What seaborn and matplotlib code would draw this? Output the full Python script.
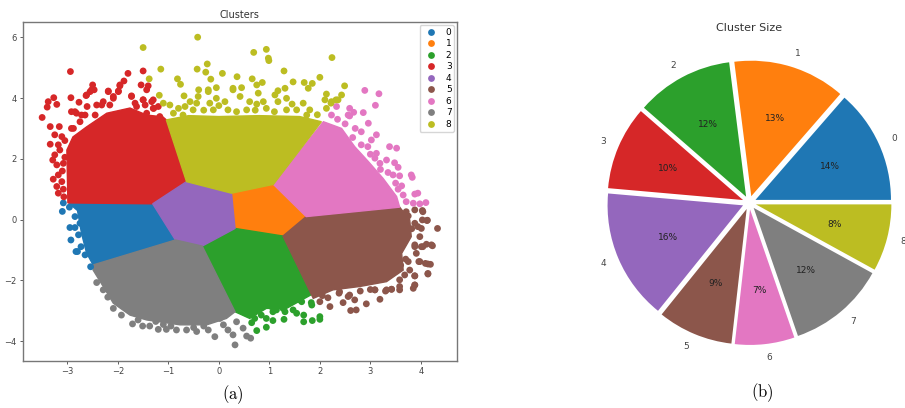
import pandas as pd
import matplotlib
matplotlib.use('Agg')
import matplotlib.pyplot as plt
import seaborn as sns

plt.rcParams['mathtext.fontset'] = 'cm'

cluster_names = ['0', '1', '2', '3', '4', '5', '6', '7', '8']

# Dense part of each cluster, outline
body_0 = [(-2.97, 0.54), (-1.31, 0.52), (-0.86, -0.67), (-2.49, -1.49), (-2.62, -1.1), (-2.72, -0.45), (-2.8, 0.3)]
body_1 = [(0.25, 0.87), (1.08, 1.16), (1.73, 0.10), (1.27, -0.54), (0.32, -0.29)]
body_2 = [(0.32, -0.29), (1.27, -0.54), (1.83, -2.47), (1.34, -2.92), (0.94, -2.92), (0.61, -3.25), (0.32, -3.03), (-0.33, -0.87)]
body_3 = [(-2.99, 0.55), (-1.31, 0.52), (-0.64, 1.25), (-1.04, 3.28), (-1.11, 3.38), (-1.43, 3.44), (-1.76, 3.67), (-2.22, 3.5),
          (-2.62, 3.05), (-2.89, 2.72), (-3.01, 2.29)]
body_4 = [(-0.64, 1.25), (0.25, 0.87), (0.32, -0.29), (-0.33, -0.87), (-0.86, -0.67), (-1.31, 0.52)]
body_5 = [(1.73, 0.10), (3.58, 0.41), (3.78, -0.01), (3.81, -0.56), (3.62, -1.11), (3.65, -1.66), (3.32, -2.04), (2.79, -2.20),
          (2.26, -2.31), (1.87, -2.59), (1.27, -0.54)]
body_6 = [(1.08, 1.16), (2.07, 3.22), (2.43, 3.0), (2.69, 2.40), (2.96, 1.91), (3.25, 1.36), (3.52, 0.76), (3.58, 0.41), (1.73, 0.10)]
body_7 = [(-2.49, -1.49), (-0.86, -0.67), (-0.33, -0.87), (0.32, -3.03), (0.15, -3.25), (-0.24, -3.46), (-0.77, -3.46), (-1.43, -3.30),
          (-1.76, -3.14), (-2.09, -2.75), (-2.29, -2.20), (-2.49, -1.66)]
body_8 = [(-1.04, 3.28), (-0.64, 1.25), (0.25, 0.87), (1.08, 1.16), (2.03, 3.22), (1.6, 3.39), (0.8, 3.42), (0, 3.39), (-0.6, 3.42)]
bodies = [body_0, body_1, body_2, body_3, body_4, body_5, body_6, body_7, body_8]

# Loose points around the dense parts
points_0 = [(-3.10, 0.27), (-3.08, 0.55), (-2.96, 0.41), (-2.95, -0.26), (-2.85, -0.26), (-2.93, -0.67), (-2.73, -0.89),
            (-2.80, -1.05), (-2.83, -1.05), (-2.54, -1.55), (-2.78, -0.50), (-2.85, 0.10), (-2.65, -1.16), (-2.75, -0.12)]
points_1 = [(1.0, 0.3)]
points_2 = [(0.65, -3.39), (0.75, -3.65), (0.94, -3.54), (0.84, -3.14), (1.07, -3.03), (1.29, -3.28), (1.07, -3.32), (0.94, -3.25),
            (1.54, -3.08), (1.68, -3.14), (1.68, -3.36), (1.85, -3.32), (2.0, -3.19), (2.0, -3.28), (1.83, -2.73), (1.60, -2.64),
            (1.27, -2.92), (1.47, -2.97), (1.04, -2.86), (1.31, -3.03), (1.84, -2.81), (1.64, -2.70), (1.14, -2.97), (0.71, -3.25)]
points_3 = [(-3.50, 3.36), (-3.34, 3.06), (-3.16, 3.06), (-3.38, 3.88), (-3.27, 4.01), (-3.40, 3.70), (-3.21, 3.79),
            (-2.94, 4.87), (-2.93, 4.01), (-1.80, 4.81), (-1.50, 4.89), (-1.88, 4.56), (-1.96, 4.40), (-1.99, 4.23),
            (-2.50, 4.43), (-2.47, 4.27), (-2.55, 4.21), (-2.63, 4.08), (-2.19, 4.23), (-1.54, 4.43), (-1.40, 4.40),
            (-1.43, 4.27), (-1.73, 4.07), (-2.09, 4.05), (-2.29, 3.88), (-2.77, 3.86), (-1.50, 3.94), (-1.30, 3.94),
            (-1.66, 3.83), (-2.61, 3.72), (-2.42, 3.77), (-2.85, 3.55), (-1.30, 3.66), (-2.65, 3.44), (-2.92, 3.0),
            (-3.25, 2.79), (-3.11, 2.73), (-3.34, 2.48), (-3.18, 2.46), (-3.29, 1.96), (-3.21, 1.80), (-3.25, 2.13),
            (-3.08, 1.85), (-3.18, 1.47), (-3.28, 1.33), (-3.11, 1.25), (-3.21, 1.09), (-3.18, 0.87), (-3.15, 2.29),
            (-2.88, 3.0), (-2.75, 3.22), (-2.72, 3.44), (-2.82, 3.50), (-2.92, 3.55), (-2.45, 3.44), (-2.32, 3.77),
            (-2.16, 3.77), (-2.09, 3.99), (-2.19, 4.21), (-1.99, 4.21), (-1.96, 4.43), (-2.52, 4.27), (-2.62, 4.10),
            (-1.73, 4.05), (-1.63, 3.72), (-1.50, 3.94), (-1.33, 3.88), (-1.46, 3.77), (-1.29, 3.66), (-1.20, 3.72),
            (-1.43, 3.50), (-1.27, 3.22), (-1.17, 3.39), (-3.05, 2.6), (-3.1, 1.6), (-3.08, 1.0), (-3.05, 2.05), (-3.07, 0.75)]
points_4 = [(-0.3, 0.3)]
points_5 = [(4.33, -0.29), (4.23, -0.86), (4.11, -0.81), (4.19, -1.47), (4.09, -1.44), (4.14, -1.79), (3.88, -2.15),
            (3.85, -2.26), (3.88, -1.85), (3.98, -1.38), (3.78, -1.66), (4.01, -0.89), (3.88, -0.89), (4.03, -0.01),
            (4.13, -0.02), (4.03, 0.30), (3.88, 0.32), (3.94, -0.23), (3.19, -2.62), (2.92, -2.77), (2.72, -2.97),
            (2.61, -2.99), (2.69, -2.64), (2.46, -2.73), (2.20, -2.86), (2.16, -2.57), (2.0, -2.70), (2.38, -2.42),
            (2.59, -2.48), (3.09, -2.31), (3.32, -2.31), (3.42, -2.29), (3.58, -2.20), (3.68, -1.82), (4.04, 0.26),
            (3.88, -0.12), (4.01, -0.29), (3.98, -0.56), (3.88, -0.83), (4.21, -0.83), (4.04, -0.89), (3.91, -1.11),
            (3.96, -1.38), (4.14, -1.46), (3.75, -1.38), (3.88, -1.85), (4.14, -1.77), (3.88, -2.15), (3.58, -1.98),
            (3.58, -2.31), (3.42, -2.29), (3.30, -2.35), (2.56, -2.53), (2.39, -2.37), (3.09, -2.31), (4.12, -0.03),
            (3.71, 0.26), (3.75, 0.12), (3.82, -0.3), (3.7, -1.3), (3.6, -1.5), (3.0, -2.3), (2.8, -2.35), (2.05, -2.5)]
points_6 = [(2.89, 4.25), (3.17, 4.14), (3.10, 3.76), (2.23, 3.44), (2.33, 3.72), (2.59, 3.66), (2.59, 3.41), (2.86, 3.52),
            (2.96, 3.17), (2.82, 2.89), (3.12, 2.79), (3.02, 2.62), (2.82, 2.46), (3.38, 2.40), (3.52, 2.35), (3.12, 2.18),
            (3.32, 1.96), (3.09, 2.02), (3.19, 1.85), (3.48, 1.87), (3.55, 1.72), (3.81, 1.47), (3.45, 1.47), (3.58, 1.44),
            (3.88, 0.84), (3.85, 0.54), (3.98, 0.52), (4.10, 0.56), (3.65, 0.81), (3.62, 1.11), (3.71, 0.59), (2.67, 3.53),
            (2.56, 3.44), (2.35, 3.3), (2.5, 3.15), (2.7, 3.0), (2.65, 2.7), (2.95, 2.4), (3.0, 2.15), (3.2, 1.65),
            (3.35, 1.55), (3.5, 1.2), (3.55, 1.0), (3.83, 1.39), (3.94, 0.87)]
points_7 = [(-2.42, -2.07), (-2.29, -2.31), (-2.09, -2.92), (-1.93, -3.14), (-1.71, -3.43), (-1.51, -3.50), (-1.37, -3.50),
            (-1.20, -3.61), (-1.04, -3.61), (-0.84, -3.63), (-0.64, -3.63), (-0.44, -3.68), (-0.21, -3.63), (-0.08, -3.85),
            (0.18, -3.63), (0.28, -3.79), (0.32, -4.12), (0.55, -3.83), (0.63, -3.90), (0.48, -3.57), (0.02, -3.25),
            (0.35, -3.36), (0.09, -3.46), (-1.1, -3.45), (-0.95, -3.5), (-0.5, -3.55), (-1.6, -3.3), (-2.2, -2.55),
            (-1.25, -3.35), (-0.3, -3.5)]
points_8 = [(-1.50, 5.66), (-0.42, 6.0), (0.69, 5.50), (0.94, 5.60), (0.98, 5.31), (0.99, 5.23), (2.24, 5.33), (-1.15, 4.95),
            (-0.43, 4.95), (-0.23, 5.12), (-0.26, 4.85), (0.07, 4.81), (1.29, 4.89), (-1.38, 4.63), (-0.82, 4.63), (-0.76, 4.45),
            (-0.16, 4.62), (-0.05, 4.34), (0.36, 4.70), (0.66, 4.63), (0.86, 4.51), (0.75, 4.43), (1.47, 4.53), (1.69, 4.51),
            (1.85, 4.48), (1.77, 4.32), (2.0, 4.68), (2.49, 4.40), (2.13, 4.13), (2.32, 3.94), (2.22, 3.83), (2.43, 4.10),
            (-1.18, 4.09), (-0.69, 4.07), (-0.40, 4.27), (-0.21, 4.27), (0.28, 4.32), (0.45, 4.34), (1.17, 4.24), (1.31, 4.32),
            (-1.10, 3.83), (-0.97, 3.77), (-0.80, 3.66), (-0.67, 3.72), (-0.57, 3.88), (-0.41, 4.05), (-0.44, 3.83),
            (-0.21, 4.21), (-0.18, 3.83), (-0.05, 3.99), (0.12, 3.88), (0.28, 4.27), (0.42, 4.05), (0.61, 3.88), (0.78, 4.16),
            (0.88, 3.88), (1.11, 4.10), (1.17, 3.88), (1.34, 3.99), (1.54, 3.61), (1.67, 3.83), (1.80, 3.61), (2.10, 3.94),
            (2.13, 3.66), (2.23, 3.88), (2.36, 3.94), (-0.90, 3.50), (-0.71, 3.44), (-0.51, 3.61), (-0.11, 3.61), (0.18, 3.61),
            (0.55, 3.61), (0.94, 3.66), (1.34, 3.61), (1.74, 3.44), (0.35, 3.55), (0.72, 3.6), (1.1, 3.55), (-0.3, 3.6),
            (1.95, 3.45), (0.0, 3.75), (0.75, 3.8), (1.45, 3.8)]
point_lists = [points_0, points_1, points_2, points_3, points_4, points_5, points_6, points_7, points_8]

pie_sizes = [13.6, 13.4, 11.6, 10.0, 15.6, 9.0, 7.1, 11.7, 8.0]

palette = sns.color_palette('tab10', 9)
W, H = 905, 408

rows = []
for name, pts in zip(cluster_names, point_lists):
    for x, y in pts:
        rows.append({'x': x, 'y': y, 'cluster': name})
df = pd.DataFrame(rows)

fig = plt.figure(figsize=(W / 100, H / 100), dpi=100)

# scatter panel
ax = fig.add_axes([22.7 / W, 1 - 361 / H, (457 - 22.7) / W, (361 - 22.3) / H])
for body, color in zip(bodies, palette):
    ax.fill(*zip(*body), color=color, lw=1.0, zorder=1)
sns.scatterplot(data=df, x='x', y='y', hue='cluster', hue_order=cluster_names, palette=palette,
                s=24, linewidth=0, ax=ax, zorder=2)
ax.set_xlim(-3.885, 4.716)
ax.set_ylim(-4.65, 6.49)
ax.set_xlabel('')
ax.set_ylabel('')
ax.set_title('Clusters', fontsize=7, pad=3, color='#333333')
ax.tick_params(labelsize=6, length=2.5, width=0.6, colors='#444444', pad=2)
ax.set_xticks([-3, -2, -1, 0, 1, 2, 3, 4])
ax.set_yticks([-4, -2, 0, 2, 4, 6])
for s in ax.spines.values():
    s.set_color('#777777')
    s.set_linewidth(1.0)
ax.legend(loc='upper right', fontsize=6.5, borderaxespad=0.3, labelspacing=0.28, handletextpad=0.6,
          handlelength=2, borderpad=0.3, markerscale=1.0)

# pie panel
R = 135.5
side = 2.5 * R
cx, cy = 749.3, 202.7
ax2 = fig.add_axes([(cx - side / 2) / W, 1 - (cy + side / 2) / H, side / W, side / H])
wedges, labels, pcts = ax2.pie(pie_sizes, labels=cluster_names, colors=palette, autopct='%.0f%%',
                               explode=[0.05] * 9, textprops={'fontsize': 6.5, 'color': '#222222'})
for t in labels:
    t.set_color('#444444')
    t.set_clip_on(False)
ax2.set_title('Cluster Size', fontsize=8, pad=1, color='#333333')

fig.text(232.7 / W, 1 - 395 / H, r'$\mathrm{(a)}$', fontsize=12, ha='center', va='center')
fig.text(762.7 / W, 1 - 393 / H, r'$\mathrm{(b)}$', fontsize=12, ha='center', va='center')

fig.savefig('out.png', dpi=100)
